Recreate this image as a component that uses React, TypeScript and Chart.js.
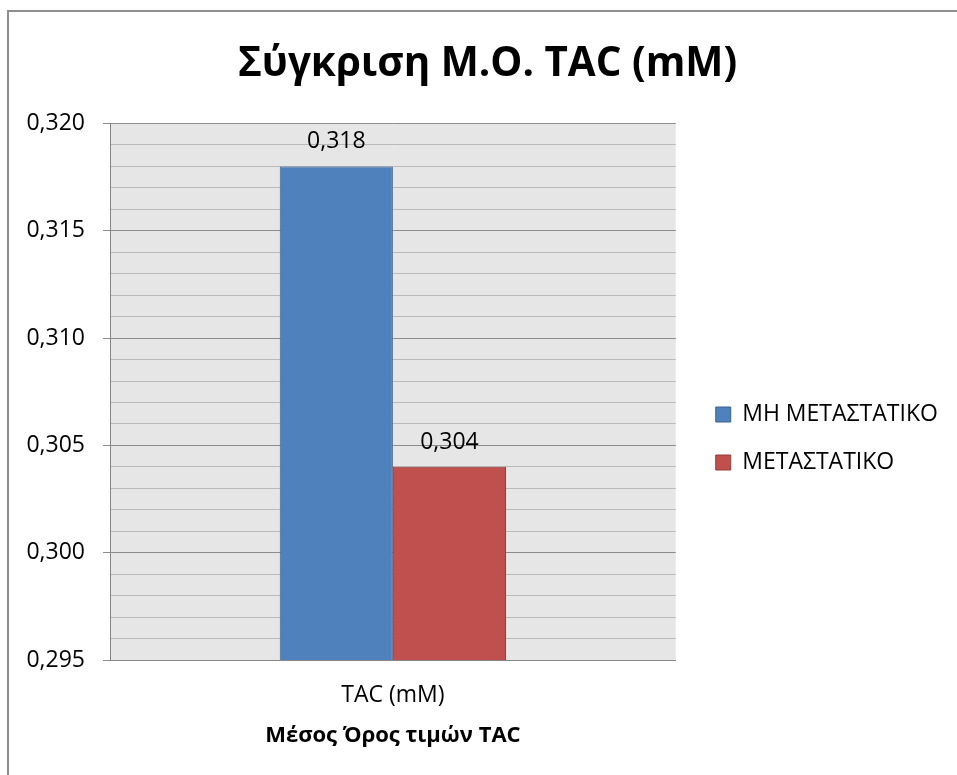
import React, { useEffect, useRef } from "react";
import { Chart, registerables } from "chart.js";

Chart.register(...registerables);

// Category, series and axis values
const categories = ["TAC (mM)"];
const seriesNames = ["ΜΗ ΜΕΤΑΣΤΑΤΙΚΟ", "ΜΕΤΑΣΤΑΤΙΚΟ"];
const nonMetastaticMeans = [0.318];
const metastaticMeans = [0.304];
const yAxisMin = 0.295;
const yAxisMax = 0.32;
const yMinorStep = 0.001;
const chartTitle = "Σύγκριση Μ.Ο. TAC (mM)";
const xAxisTitle = "Μέσος Όρος τιμών TAC";

const FONT = '"Open Sans", "Noto Sans", sans-serif';
const WIDTH = 957;
const HEIGHT = 775;

const formatValue = (v: number) => v.toFixed(3).replace(".", ",");
const isMajorTick = (v: number) => Math.round(v * 1000) % 5 === 0;

// Gray plot background behind the grid
const plotBackground = {
  id: "plotBackground",
  beforeDraw(chart: any) {
    const { ctx, chartArea } = chart;
    ctx.save();
    ctx.fillStyle = "#e6e6e6";
    ctx.fillRect(chartArea.left, chartArea.top, chartArea.right - chartArea.left, chartArea.bottom - chartArea.top);
    ctx.restore();
  },
};

// Value labels above each bar
const valueLabels = {
  id: "valueLabels",
  afterDatasetsDraw(chart: any) {
    const { ctx } = chart;
    ctx.save();
    ctx.fillStyle = "#000";
    ctx.font = `23px ${FONT}`;
    ctx.textAlign = "center";
    ctx.textBaseline = "alphabetic";
    chart.data.datasets.forEach((ds: any, i: number) => {
      const meta = chart.getDatasetMeta(i);
      meta.data.forEach((bar: any, j: number) => {
        ctx.fillText(formatValue(ds.data[j]), bar.x, bar.y - 18);
      });
    });
    ctx.restore();
  },
};

// Title centred over the whole frame; legend block to the right of the plot, below centre
const blockPlacement = {
  id: "blockPlacement",
  afterLayout(chart: any) {
    const tb = chart.titleBlock;
    if (tb) {
      tb.left = 0;
      tb.right = 975;
    }
    const lg = chart.legend;
    if (lg) {
      const h = lg.bottom - lg.top;
      lg.left = chart.chartArea.right + 15;
      lg.right = lg.left + 270;
      lg.top = 378;
      lg.bottom = lg.top + h;
    }
  },
};

export default function App() {
  const canvasRef = useRef<HTMLCanvasElement | null>(null);

  useEffect(() => {
    const canvas = canvasRef.current;
    if (!canvas) return;
    const chart = new Chart(canvas, {
      type: "bar",
      data: {
        labels: categories,
        datasets: [
          {
            label: seriesNames[0],
            data: nonMetastaticMeans,
            backgroundColor: "#4f81bd",
            borderColor: "#3b6392",
            borderWidth: 1,
            categoryPercentage: 0.4,
            barPercentage: 1,
          },
          {
            label: seriesNames[1],
            data: metastaticMeans,
            backgroundColor: "#c0504d",
            borderColor: "#923c3a",
            borderWidth: 1,
            categoryPercentage: 0.4,
            barPercentage: 1,
          },
        ],
      },
      options: {
        responsive: false,
        animation: false,
        layout: { padding: { left: 0, right: 56, top: 0, bottom: 0 } },
        plugins: {
          title: {
            display: true,
            text: chartTitle,
            color: "#000",
            font: { family: FONT, size: 40.4, weight: "bold" },
            padding: { top: 40, bottom: 35 },
          },
          legend: {
            position: "right",
            align: "start",
            labels: {
              color: "#000",
              font: { family: FONT, size: 23 },
              boxWidth: 15,
              boxHeight: 15,
              padding: 25,
            },
          },
          tooltip: { enabled: false },
        },
        scales: {
          x: {
            grid: { display: false, drawTicks: false },
            border: { display: true, color: "#868686", width: 1 },
            ticks: { color: "#000", font: { family: FONT, size: 23 }, padding: 22 },
            title: {
              display: true,
              text: xAxisTitle,
              color: "#000",
              font: { family: FONT, size: 22, weight: "bold" },
              padding: { top: 0, bottom: 26 },
            },
            afterFit: (s: any) => {
              s.height = 115;
            },
          },
          y: {
            min: yAxisMin,
            max: yAxisMax,
            ticks: {
              stepSize: yMinorStep,
              autoSkip: false,
              color: "#000",
              font: { family: FONT, size: 23 },
              padding: 18,
              callback: (v: any) => (isMajorTick(Number(v)) ? formatValue(Number(v)) : ""),
            },
            grid: {
              color: (c: any) => (isMajorTick(c.tick.value) ? "#8c8c8c" : "#b9b9b9"),
              tickColor: (c: any) => (isMajorTick(c.tick.value) ? "#8c8c8c" : "rgba(0,0,0,0)"),
              tickLength: 7,
              lineWidth: 1,
            },
            border: { display: true, color: "#868686", width: 1 },
            afterFit: (s: any) => {
              s.width = 110;
            },
          },
        },
      },
      plugins: [plotBackground, valueLabels, blockPlacement],
    } as any);
    return () => chart.destroy();
  }, []);

  return (
    <div
      style={{
        position: "fixed",
        left: 0,
        top: 0,
        width: WIDTH,
        height: HEIGHT,
        overflow: "hidden",
        background: "#fff",
      }}
    >
      <canvas
        ref={canvasRef}
        width={WIDTH}
        height={HEIGHT}
        style={{ position: "absolute", left: 0, top: 0, width: WIDTH, height: HEIGHT }}
      />
      <div
        style={{
          position: "absolute",
          left: 7,
          top: 10,
          width: 1200,
          height: 1200,
          borderLeft: "2px solid #8e8e8e",
          borderTop: "2px solid #8e8e8e",
          pointerEvents: "none",
        }}
      />
    </div>
  );
}
